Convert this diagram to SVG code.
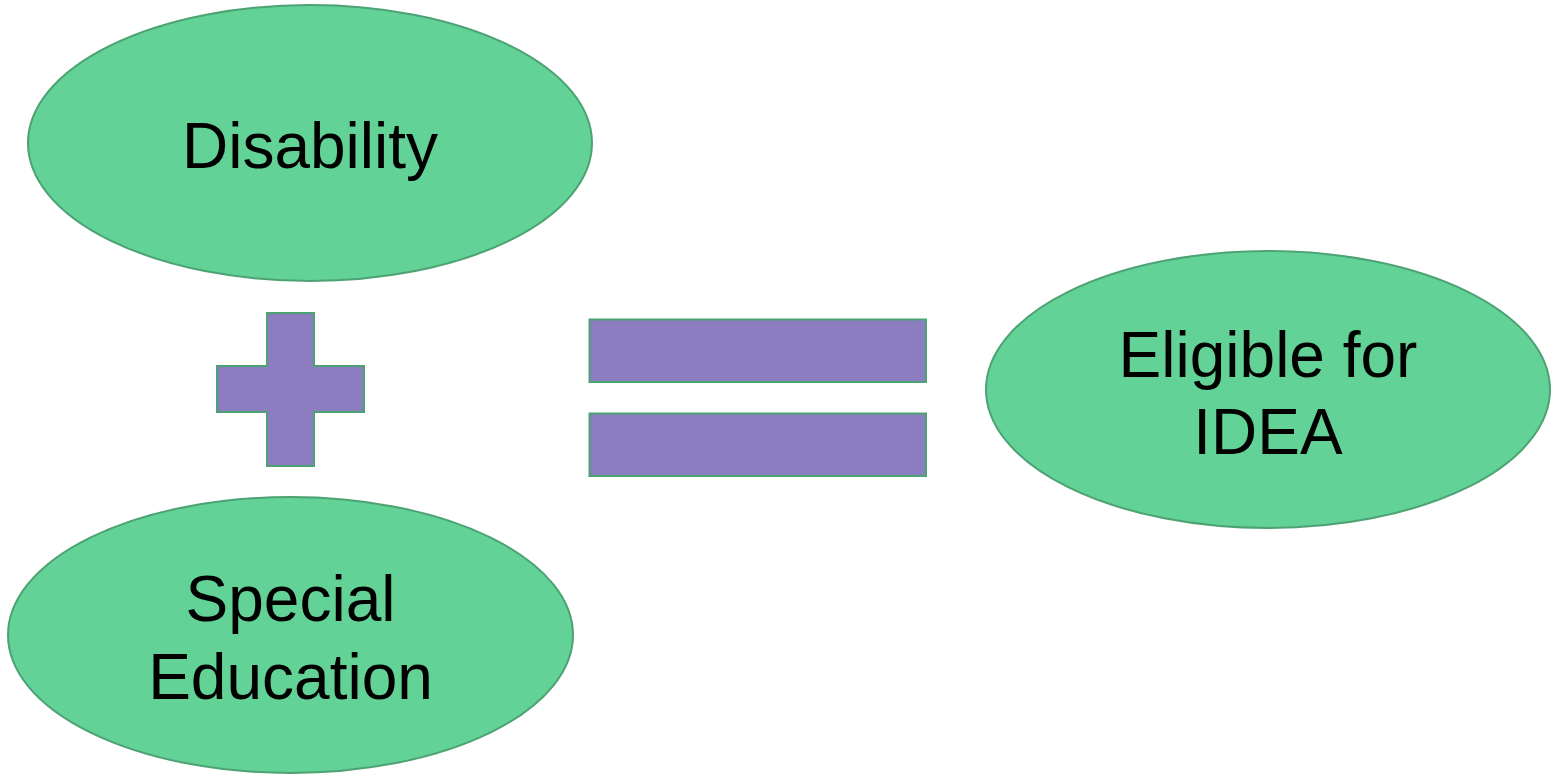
<svg xmlns="http://www.w3.org/2000/svg" width="1556" height="775" viewBox="0 0 1556 775">
<style>
.node{fill:#62D296;stroke:#4DA274;stroke-width:2}
.op{fill:#8B7DC0;stroke:#4DA274;stroke-width:2}
.t{font-family:"Liberation Sans",Arial,sans-serif;font-size:64px;fill:#000;text-anchor:middle}
</style>
<rect width="1556" height="775" fill="#fff"/>
<g id="disability">
<ellipse class="node" cx="310" cy="143" rx="282" ry="138"/>
<text class="t" x="310" y="168">Disability</text>
</g>
<g id="special-education">
<ellipse class="node" cx="290.5" cy="635" rx="282.5" ry="138"/>
<text class="t" x="290.5" y="621">Special</text>
<text class="t" x="290.5" y="699">Education</text>
</g>
<g id="eligible">
<ellipse class="node" cx="1268" cy="389.5" rx="282" ry="138.5"/>
<text class="t" x="1268" y="377">Eligible for</text>
<text class="t" x="1268" y="454">IDEA</text>
</g>
<g id="plus">
<path class="op" d="M267,313 H314 V366 H364 V412 H314 V466 H267 V412 H217 V366 H267 Z"/>
</g>
<g id="equals">
<rect class="op" x="589.5" y="319.5" width="336.5" height="62.5"/>
<rect class="op" x="589.5" y="413.5" width="336.5" height="62.5"/>
</g>
<g id="connectors"></g>
</svg>
